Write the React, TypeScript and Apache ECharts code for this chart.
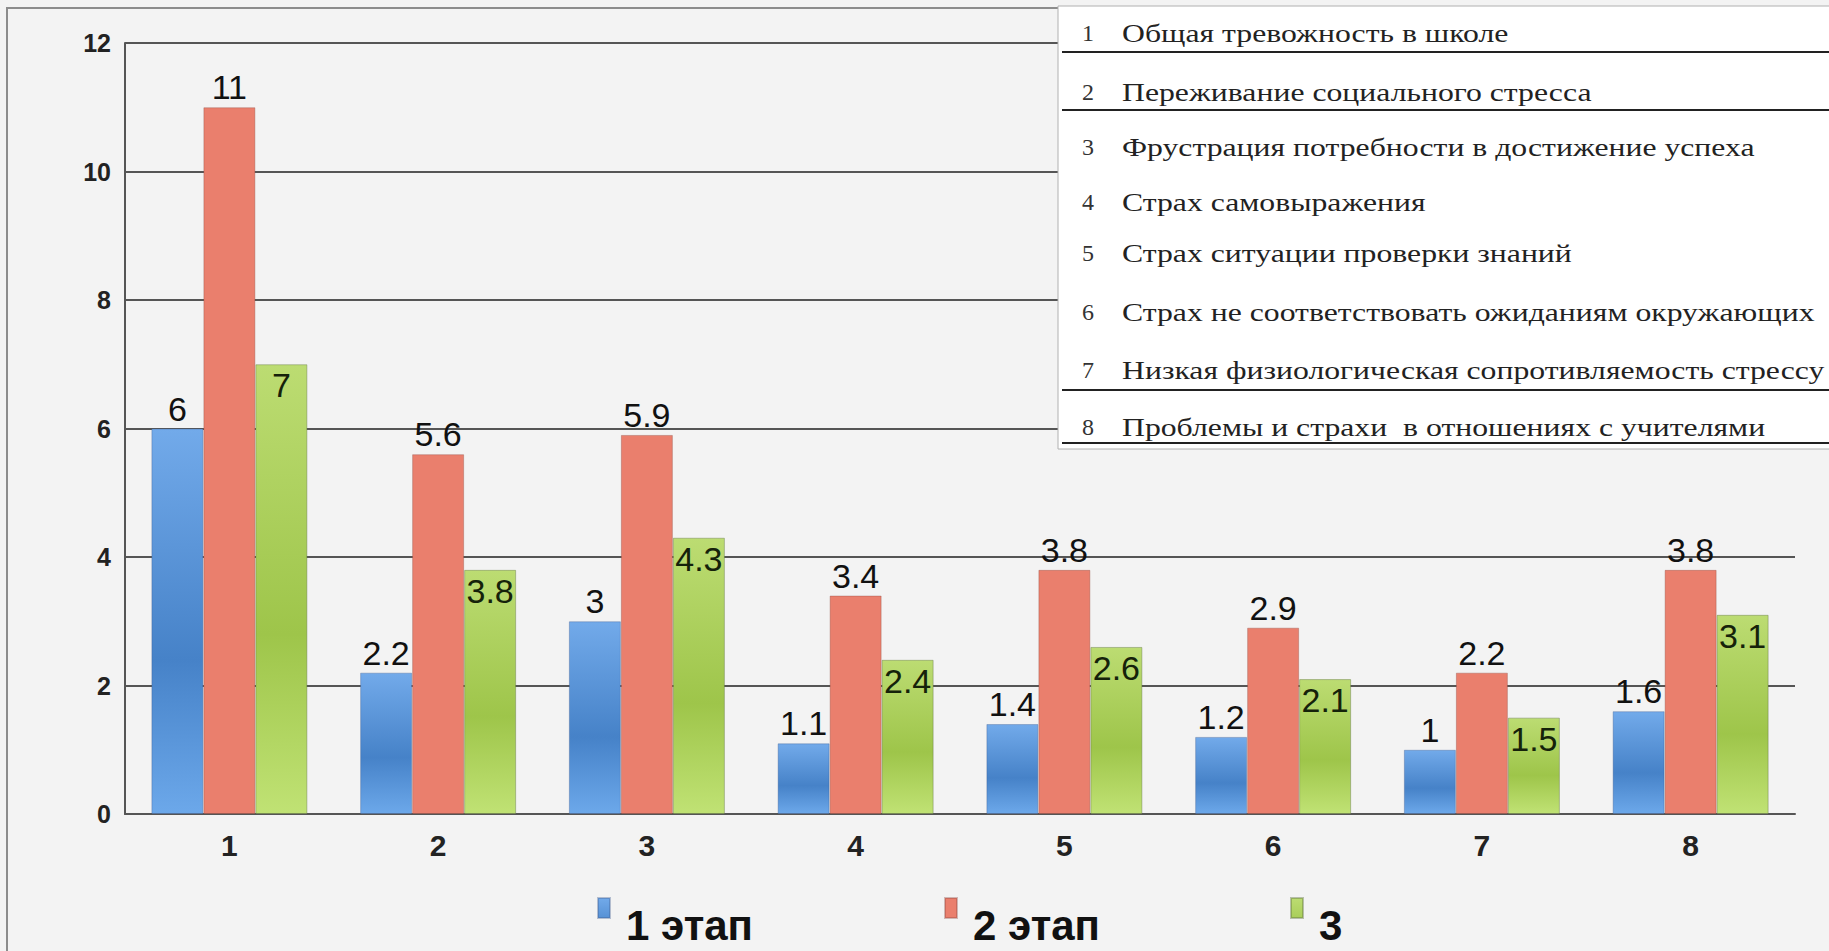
import React, { useEffect, useRef } from "react";
import * as echarts from "echarts";

const categories = ["1", "2", "3", "4", "5", "6", "7", "8"];
const seriesNames = ["1 этап", "2 этап", "3"];
const stage1 = [6, 2.2, 3, 1.1, 1.4, 1.2, 1, 1.6];
const stage2 = [11, 5.6, 5.9, 3.4, 3.8, 2.9, 2.2, 3.8];
const stage3 = [7, 3.8, 4.3, 2.4, 2.6, 2.1, 1.5, 3.1];
const yTicks = { min: 0, max: 12, interval: 2 };
const tableNumbers = ["1", "2", "3", "4", "5", "6", "7", "8"];
const tableLabels = [
  "Общая тревожность в школе",
  "Переживание социального стресса",
  "Фрустрация потребности в достижение успеха",
  "Страх самовыражения",
  "Страх ситуации проверки знаний",
  "Страх не соответствовать ожиданиям окружающих",
  "Низкая физиологическая сопротивляемость стрессу",
  "Проблемы и страхи  в отношениях с учителями",
];

const W = 1829;
const H = 951;

export default function App() {
  const ref = useRef<HTMLDivElement>(null);
  useEffect(() => {
    document.body.style.margin = "0";
    if (!ref.current) return;
    const chart = echarts.init(ref.current, null, { renderer: "svg" });

    const sans = "'Liberation Sans', Arial, sans-serif";
    const serif = "'Liberation Serif', 'Times New Roman', serif";

    const blue = new echarts.graphic.LinearGradient(0, 0, 0, 1, [
      { offset: 0, color: "#72aaea" },
      { offset: 0.6, color: "#4682c8" },
      { offset: 1, color: "#6ca8ea" },
    ]);
    const red = "#ea7f6d";
    const green = new echarts.graphic.LinearGradient(0, 0, 0, 1, [
      { offset: 0, color: "#bcdc72" },
      { offset: 0.6, color: "#9ec54a" },
      { offset: 1, color: "#c0e274" },
    ]);

    const rowY = [33, 92, 147, 202, 253, 312, 370, 427];
    const ruleY = [52, 110, 390, 443];
    const textScaleX = 1.22;
    const Z = 100;

    const tableChildren: any[] = [
      {
        type: "rect",
        z: Z,
        shape: { x: 1058, y: 6, width: 900, height: 443 },
        style: { fill: "#ffffff", stroke: "#b0b0b0", lineWidth: 1 },
      },
      ...ruleY.map((y) => ({
        type: "line",
        z: Z + 1,
        shape: { x1: 1062, y1: y, x2: 1900, y2: y },
        style: { stroke: "#222", lineWidth: 2 },
      })),
      ...tableNumbers.map((n, i) => ({
        type: "text",
        z: Z + 2,
        x: 1088,
        y: rowY[i],
        style: {
          text: n,
          fontFamily: serif,
          fontSize: 24,
          fill: "#333",
          align: "center",
          verticalAlign: "middle",
        },
      })),
      ...tableLabels.map((t, i) => ({
        type: "text",
        z: Z + 2,
        x: 1122,
        y: rowY[i],
        scaleX: textScaleX,
        style: {
          text: t,
          fontFamily: serif,
          fontSize: 26,
          fill: "#222",
          align: "left",
          verticalAlign: "middle",
        },
      })),
    ];

    const legendIcon =
      "path://M0,0L12,0L12,20L0,20Z M22.9,53.9L23,53.9L23,54L22.9,54Z";

    const legendBase = {
      orient: "horizontal",
      top: 892,
      itemWidth: 23,
      itemHeight: 54,
      icon: legendIcon,
      selectedMode: false,
      textStyle: {
        fontFamily: sans,
        fontSize: 42,
        fontWeight: "bold",
        color: "#111",
      },
    };

    chart.setOption({
      animation: false,
      backgroundColor: "#f3f3f3",
      grid: { left: 125, right: 34, top: 43, bottom: 137, containLabel: false },
      legend: [
        { ...legendBase, left: 592, data: [seriesNames[0]] },
        { ...legendBase, left: 939, data: [seriesNames[1]] },
        { ...legendBase, left: 1285, data: [seriesNames[2]] },
      ],
      xAxis: {
        type: "category",
        data: categories,
        axisLine: { show: true, lineStyle: { color: "#555", width: 2 } },
        axisTick: { show: false },
        axisLabel: {
          fontFamily: sans,
          fontSize: 30,
          fontWeight: "bold",
          color: "#222",
          margin: 16,
        },
      },
      yAxis: {
        type: "value",
        min: yTicks.min,
        max: yTicks.max,
        interval: yTicks.interval,
        axisLine: { show: true, lineStyle: { color: "#555", width: 2 } },
        axisTick: { show: false },
        splitLine: { show: true, lineStyle: { color: "#555", width: 2 } },
        axisLabel: {
          fontFamily: sans,
          fontSize: 25,
          fontWeight: "bold",
          color: "#222",
          margin: 14,
        },
      },
      series: [
        {
          name: seriesNames[0],
          type: "bar",
          data: stage1,
          barWidth: 52,
          barGap: "0%",
          itemStyle: { color: blue, borderColor: "rgba(60,90,140,0.35)", borderWidth: 1 },
          label: {
            show: true,
            position: "top",
            distance: 3,
            fontFamily: sans,
            fontSize: 34,
            color: "#111",
          },
        },
        {
          name: seriesNames[1],
          type: "bar",
          data: stage2,
          barWidth: 52,
          barGap: "0%",
          itemStyle: { color: red, borderColor: "rgba(140,70,60,0.35)", borderWidth: 1 },
          label: {
            show: true,
            position: "top",
            distance: 3,
            fontFamily: sans,
            fontSize: 34,
            color: "#111",
          },
        },
        {
          name: seriesNames[2],
          type: "bar",
          data: stage3,
          barWidth: 52,
          barGap: "0%",
          itemStyle: { color: green, borderColor: "rgba(90,110,60,0.4)", borderWidth: 1 },
          label: {
            show: true,
            position: "insideTop",
            distance: 4,
            fontFamily: sans,
            fontSize: 34,
            color: "#15220a",
          },
        },
      ],
      graphic: [
        {
          type: "polyline",
          z: 90,
          shape: { points: [[7, H + 10], [7, 8], [1060, 8]] },
          style: { stroke: "#8c8c8c", lineWidth: 2, fill: "none" },
        },
        { type: "group", z: Z, children: tableChildren },
      ],
    });
    return () => chart.dispose();
  }, []);
  return <div ref={ref} style={{ width: W, height: H }} />;
}
